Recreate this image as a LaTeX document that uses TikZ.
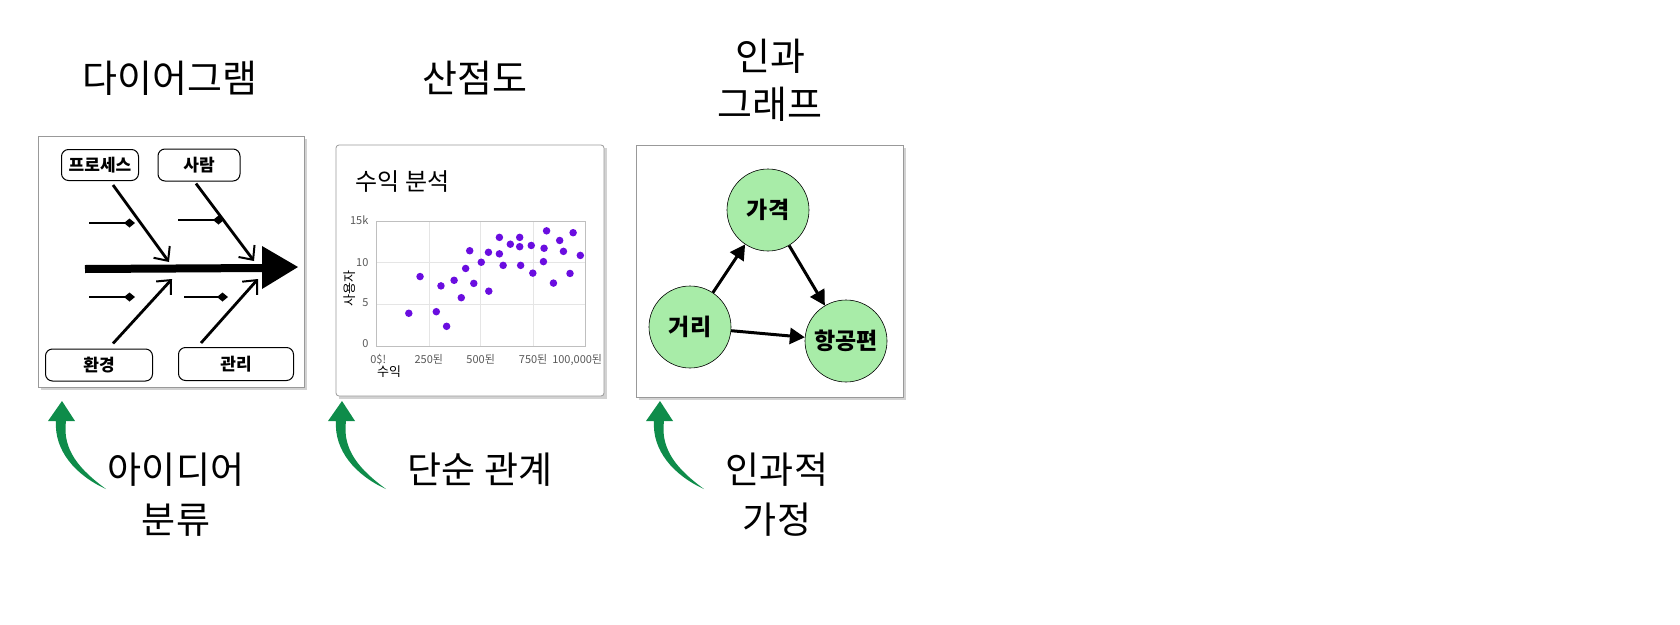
\documentclass[tikz,border=0pt]{standalone}
\usepackage{fontspec}
\setmainfont{Noto Sans CJK KR}
\usetikzlibrary{arrows.meta,shapes.geometric}
\definecolor{grn}{HTML}{0E8C4A}
\definecolor{dotc}{HTML}{6A0DE0}
\definecolor{nodeg}{HTML}{A8ECA8}
\tikzset{
 card/.style={draw=gray!80,line width=0.8pt,fill=white},
 title/.style={font=\fontsize{38}{48}\selectfont,align=center},
 captxt/.style={font=\fontsize{37}{50}\selectfont,align=center},
 fbox/.style={draw,rounded corners=7pt,line width=1pt,fill=white,font=\fontsize{17}{19}\selectfont\bfseries},
 bone/.style={line width=2.8pt,-{Straight Barb[length=11pt,width=20pt,line width=2pt]}},
 twig/.style={line width=1.3pt,-{Diamond[length=11pt,width=9pt]}},
 dot/.style={circle,fill=dotc,inner sep=0pt,minimum size=7.5pt},
 tick/.style={font=\fontsize{11}{13}\selectfont,text=black!65},
 cn/.style={circle,draw,fill=nodeg,minimum size=82pt,inner sep=0pt,line width=0.6pt,font=\fontsize{23}{26}\selectfont\bfseries},
 carr/.style={line width=3pt,-{Triangle[length=15pt,width=16pt]}},
 garr/.style={fill=grn}
}
\begin{document}
\begin{tikzpicture}[x=1pt,y=-1pt]
\useasboundingbox (0,0) rectangle (1680,624);
% titles
\node[title] (t1) at (170,78) {다이어그램};
\node[title] (t2) at (475,78) {산점도};
\node[title] (t3) at (770,80) {인과\\그래프};
% ===== fishbone card
\fill[gray!35] (41,139) rectangle (307,390);
\draw[card] (38,136) rectangle (304,387);
\node[fbox,minimum width=77pt,minimum height=31pt] (p) at (100,165) {프로세스};
\node[fbox,minimum width=82pt,minimum height=32pt] (s) at (199,165) {사람};
\node[fbox,minimum width=107pt,minimum height=32pt] (h) at (99,365) {환경};
\node[fbox,minimum width=115pt,minimum height=33pt] (g) at (236,364) {관리};
\coordinate (sp0) at (85,269);
\coordinate (sp1) at (265,268);
\draw[line width=8pt] (sp0) -- (sp1);
\fill (262,246) -- (298,267) -- (262,289) -- cycle;
\coordinate (e1) at (169,262);
\coordinate (e2) at (254,261);
\coordinate (e3) at (172,279);
\coordinate (e4) at (258,279);
\draw[bone] (p.south)++(13,4) -- (e1);
\draw[bone] (s.south)++(-3,2) -- (e2);
\draw[bone] (h.north)++(14,-5) -- (e3);
\draw[bone] (g.north)++(-35,-4) -- (e4);
\coordinate (a1) at (89,223); \coordinate (b1) at (135,223);
\coordinate (a2) at (178,220); \coordinate (b2) at (224,220);
\coordinate (a3) at (89,297); \coordinate (b3) at (135,297);
\coordinate (a4) at (184,297); \coordinate (b4) at (228,297);
\draw[twig] (a1) -- (b1); \draw[twig] (a2) -- (b2);
\draw[twig] (a3) -- (b3); \draw[twig] (a4) -- (b4);
% ===== scatter card
\fill[gray!35] (339,148) rectangle (607,399);
\draw[card,rounded corners=3pt] (336,145) rectangle (604,396);
\node[font=\fontsize{24}{28}\selectfont,anchor=west] (st) at (352,182) {수익 분석};
\begin{scope}[shift={(307.9,131)},x=0.3124pt,y=-0.311pt]
\draw[black!10,line width=0.6pt] (387,290)--(387,692) (553,290)--(553,692) (721,290)--(721,692)
  (220,422)--(888,422) (220,558)--(888,558);
\draw[black!25,line width=0.8pt] (220,290) rectangle (888,692);
\foreach \px/\py in {323/586,359/468,411/581,426/498,444/628,468/480,491/536,505/442,518/385,531/490,555/422,578/390,579/515,613/342,613/395,625/432,648/364,678/342,678/372,681/432,715/368,720/457,756/377,754/420,764/321,786/489,806/352,818/387,839/458,849/327,872/400}
  \node[dot] at (\px,\py) {};
\node[tick,anchor=east] (y15) at (205,288) {15k};
\node[tick,anchor=east] (y10) at (205,422) {10};
\node[tick,anchor=east] (y5) at (205,552) {5};
\node[tick,anchor=east] (y0) at (205,683) {0};
\node[tick] (x0) at (225,735) {0\$!};
\node[tick] (x1) at (387,735) {250된};
\node[tick] (x2) at (553,735) {500된};
\node[tick] (x3) at (721,735) {750된};
\node[tick] (x4) at (862,735) {100,000된};
\node[font=\fontsize{13}{15}\selectfont,rotate=90] (yl) at (135,505) {사용자};
\node[font=\fontsize{13}{15}\selectfont] (xl) at (260,775) {수익};
\end{scope}
% ===== causal card
\fill[gray!35] (639,148) rectangle (906,400);
\draw[card] (636,145) rectangle (903,397);
\node[cn] (pr) at (768,210) {가격};
\node[cn] (di) at (690,327) {거리};
\node[cn] (fl) at (846,341) {항공편};
\draw[carr] (di) -- (pr);
\draw[carr] (pr) -- (fl);
\draw[carr] (di) -- (fl);
% ===== green arrows and captions
\foreach \ox/\oy in {0/0,280/0,598/0}{
 \begin{scope}[shift={(\ox,\oy)}]
 \fill[garr] (106,489) .. controls (80,470) and (62,450) .. (66,421)
   -- (75,421) -- (62,401) -- (48,421) -- (56,421)
   .. controls (54,450) and (75,475) .. (106,489) -- cycle;
 \end{scope}}
\node[captxt] (c1) at (176,495) {아이디어\\분류};
\node[captxt] (c2) at (480,470) {단순 관계};
\node[captxt] (c3) at (777,495) {인과적\\가정};
\end{tikzpicture}
\end{document}
